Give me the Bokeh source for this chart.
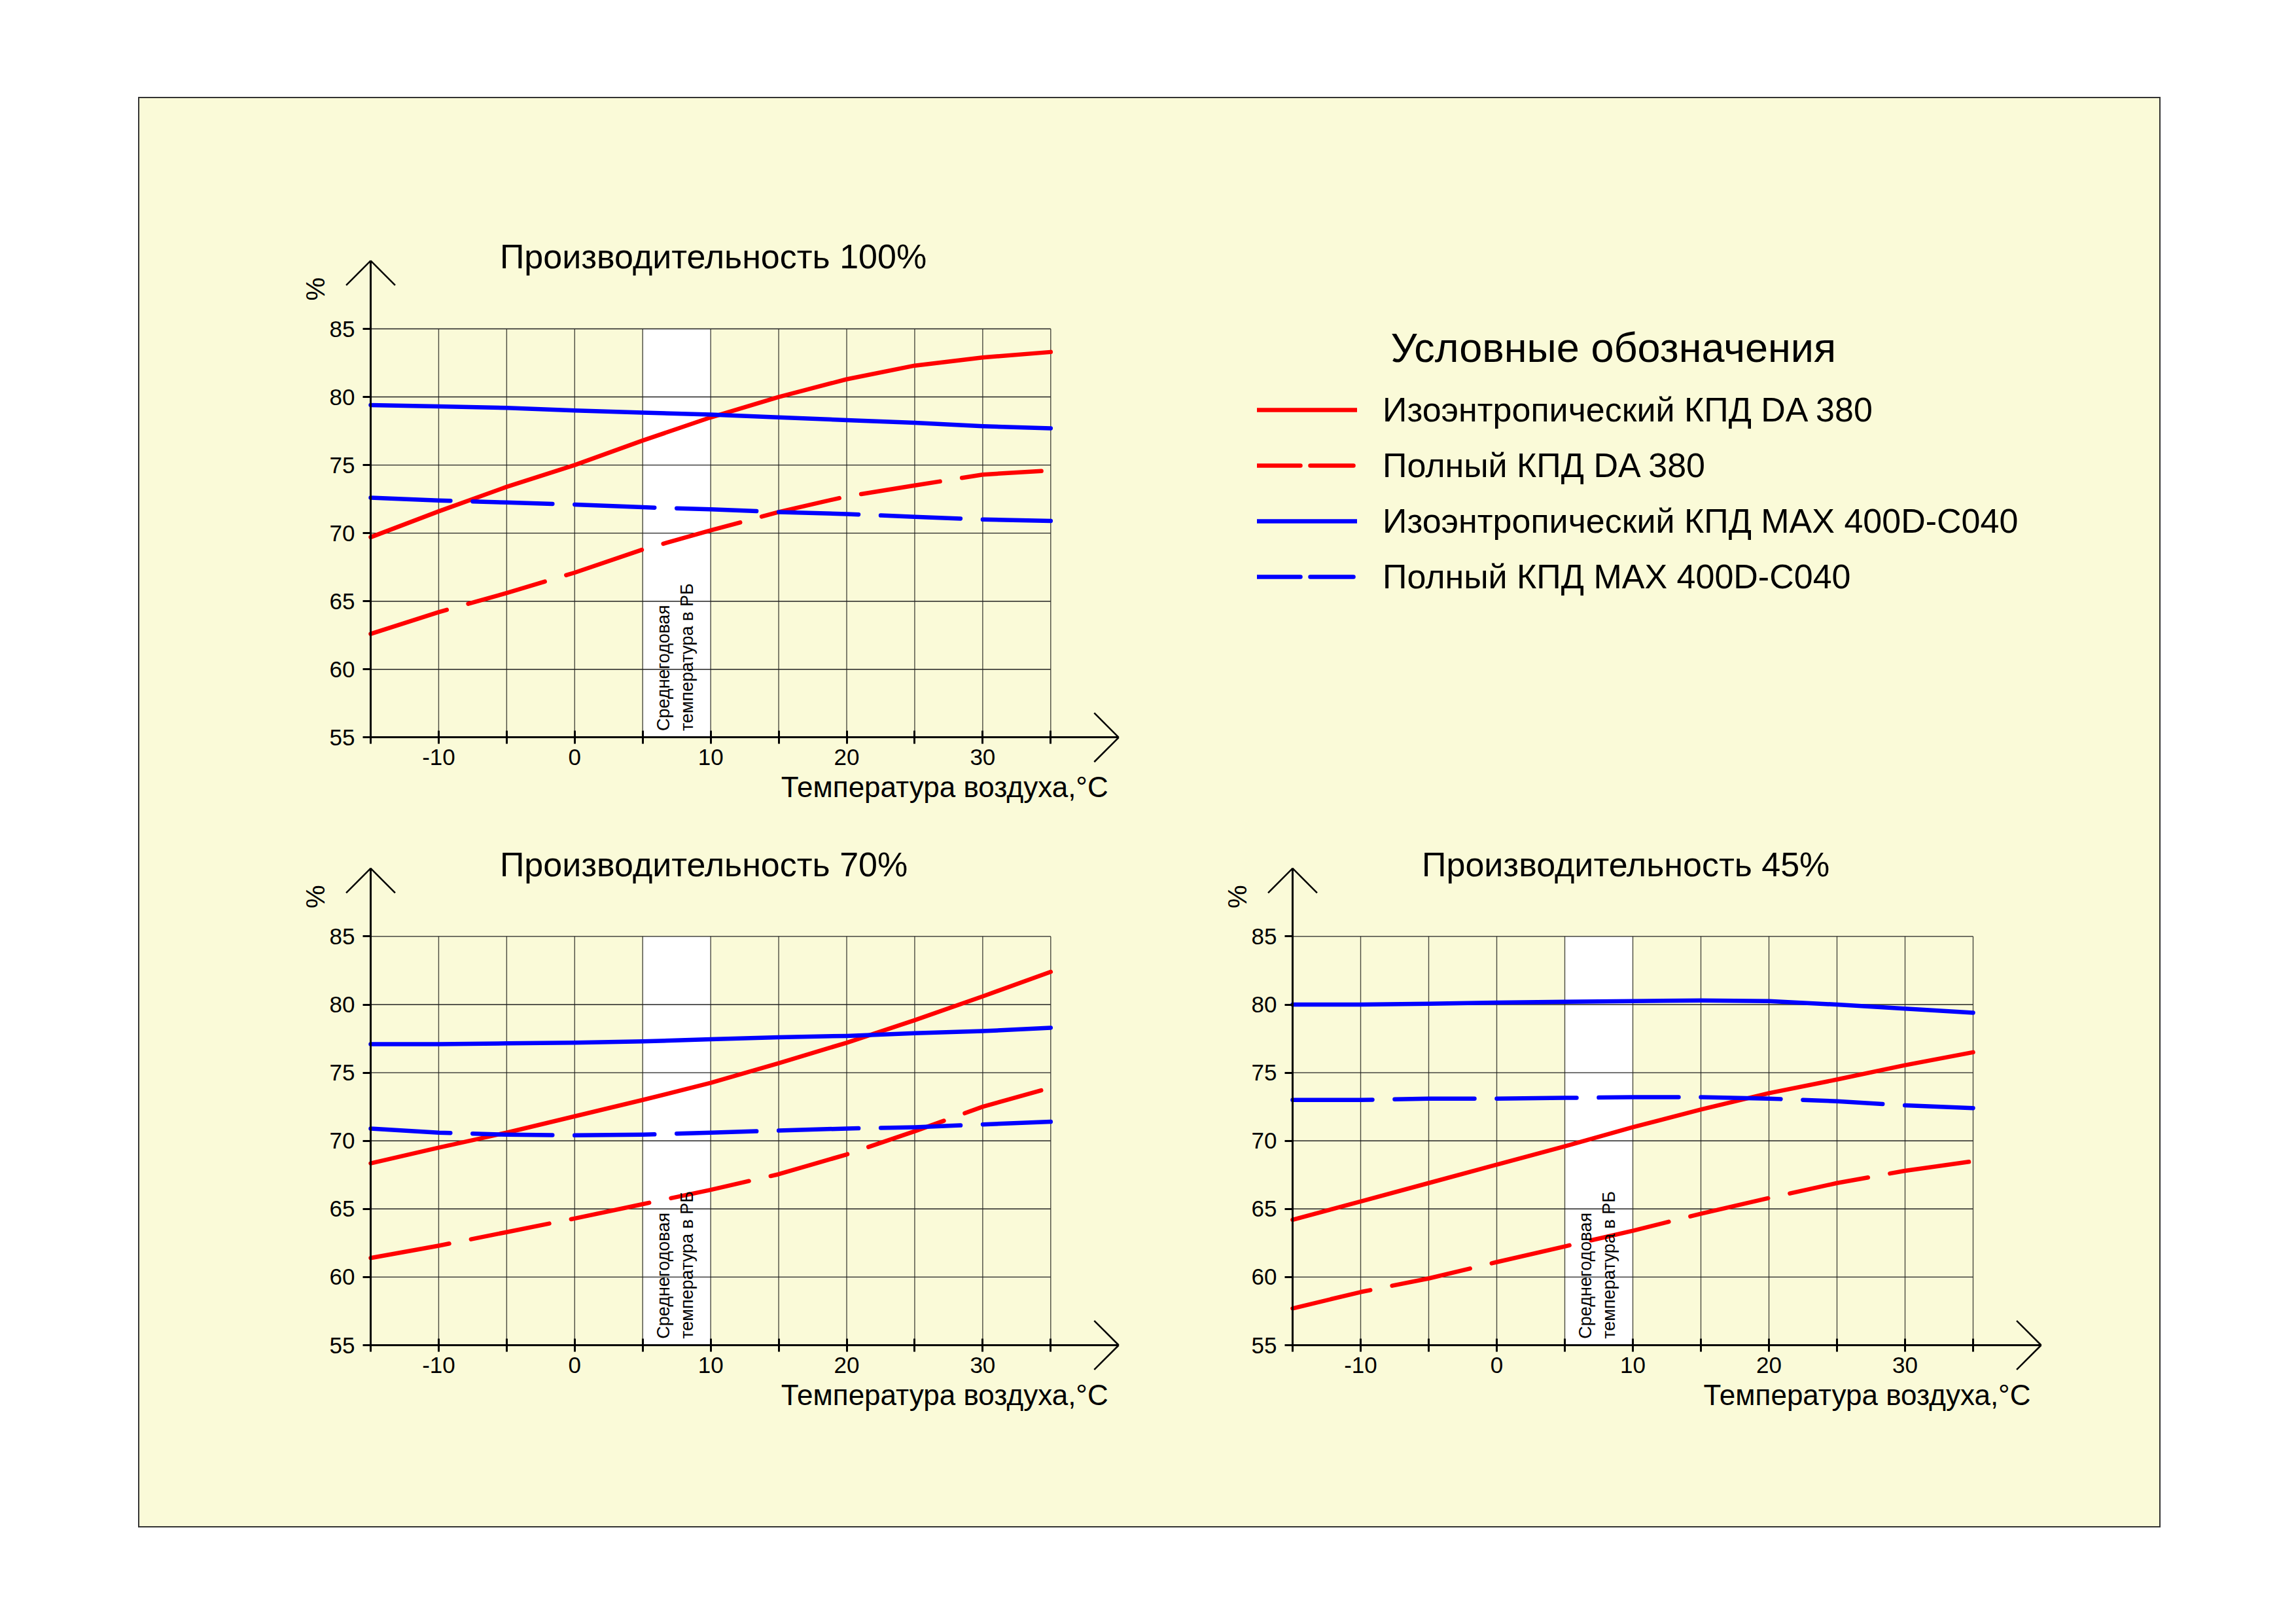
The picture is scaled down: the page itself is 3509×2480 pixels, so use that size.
import math
from bokeh.plotting import figure
from bokeh.layouts import row, column
from bokeh.models import (Range1d, FixedTicker, Label, Arrow, Legend, LegendItem, Spacer,
                          LinearAxis)
from bokeh.embed import file_html
from bokeh.resources import INLINE

FONT = "Liberation Sans"
BG = "#FAFAD8"
RED = "#FF0000"
BLUE = "#0000FF"
GRID_H = "#222222"
GRID_V = "#4a4a40"

# ---------------- data ----------------
temps = [-15, -10, -5, 0, 5, 10, 15, 20, 25, 30, 35]

# Производительность 100%
da_isen_100 = [69.7, 71.6, 73.4, 75.0, 76.8, 78.5, 80.0, 81.3, 82.3, 82.9, 83.3]
da_full_100 = [62.6, 64.2, 65.6, 67.1, 68.8, 70.2, 71.55, 72.7, 73.5, 74.3, 74.6]
max_isen_100 = [79.4, 79.3, 79.2, 79.0, 78.85, 78.7, 78.5, 78.3, 78.1, 77.85, 77.7]
max_full_100 = [72.6, 72.4, 72.25, 72.1, 71.9, 71.75, 71.55, 71.4, 71.2, 71.0, 70.9]

# Производительность 70%
da_isen_70 = [68.35, 69.5, 70.6, 71.8, 73.0, 74.25, 75.7, 77.2, 78.85, 80.6, 82.4]
da_full_70 = [61.4, 62.3, 63.3, 64.3, 65.35, 66.4, 67.55, 69.0, 70.7, 72.5, 73.9]
max_isen_70 = [77.1, 77.1, 77.15, 77.2, 77.3, 77.45, 77.6, 77.7, 77.9, 78.05, 78.3]
max_full_70 = [70.9, 70.6, 70.45, 70.4, 70.45, 70.6, 70.75, 70.9, 71.0, 71.2, 71.4]

# Производительность 45%
da_isen_45 = [64.2, 65.55, 66.9, 68.25, 69.6, 71.0, 72.3, 73.5, 74.5, 75.55, 76.5]
da_full_45 = [57.7, 58.9, 59.9, 61.1, 62.25, 63.4, 64.65, 65.8, 66.9, 67.8, 68.5]
max_isen_45 = [80.0, 80.0, 80.06, 80.15, 80.2, 80.25, 80.3, 80.25, 80.0, 79.7, 79.4]
max_full_45 = [73.0, 73.0, 73.1, 73.1, 73.15, 73.2, 73.2, 73.1, 72.9, 72.6, 72.4]

titles = ["Производительность 100%", "Производительность 70%", "Производительность 45%"]
legend_title = "Условные обозначения"
legend_labels = [
    "Изоэнтропический КПД DA 380",
    "Полный КПД DA 380",
    "Изоэнтропический КПД MAX 400D-C040",
    "Полный КПД MAX 400D-C040",
]
x_axis_title = "Температура воздуха,°С"
y_axis_title = "%"
band_text = "Среднегодовая\nтемпература в РБ"
band_x = [5, 10]

x_ticks = [-10, 0, 10, 20, 30]
x_tick_labels = ["-10", "0", "10", "20", "30"]
x_minor_ticks = [-15, -5, 5, 15, 25, 35]
y_ticks = [55, 60, 65, 70, 75, 80, 85]
y_tick_labels = ["55", "60", "65", "70", "75", "80", "85"]
grid_x = [-10, -5, 0, 5, 10, 15, 20, 25, 30, 35]
grid_y = [60, 65, 70, 75, 80, 85]

X_MIN, X_MAX, Y_MIN, Y_MAX = -15, 35, 55, 85
X_TIP, Y_TIP = 40, 90

series_colors = [RED, RED, BLUE, BLUE]
series_dash = ["solid", "122 34", "solid", "122 34"]
legend_dash = ["solid", "66 15", "solid", "66 15"]

# page geometry (px, page coordinates; bokeh's page has no body margin)
PAGE_X0, PAGE_Y0 = 213, 150


def make_chart(title, series, cx0, cw, cy0, ch, px_xmin, ppu_x, px_ytop, ppu_y):
    # ranges chosen so that the frame fills the whole canvas
    x_start = X_MIN - (px_xmin - cx0) / ppu_x
    x_end = X_MIN + (cx0 + cw - px_xmin) / ppu_x
    y_end = Y_MAX + (px_ytop - cy0) / ppu_y
    y_start = Y_MAX - (cy0 + ch - px_ytop) / ppu_y
    p = figure(width=cw, height=ch,
               x_range=Range1d(x_start, x_end), y_range=Range1d(y_start, y_end),
               x_axis_type=None, y_axis_type=None,
               output_backend="svg", toolbar_location=None, min_border=0,
               background_fill_color=BG, border_fill_color=BG)
    p.outline_line_color = None

    # white band (average annual temperature)
    p.quad(left=[band_x[0]], right=[band_x[1]], bottom=[Y_MIN], top=[Y_MAX],
           fill_color="white", line_color=None)

    # grid
    p.segment(x0=grid_x, x1=grid_x, y0=[Y_MIN] * len(grid_x), y1=[Y_MAX] * len(grid_x),
              line_color=GRID_V, line_width=1.4)
    p.segment(x0=[X_MIN] * len(grid_y), x1=[X_MAX] * len(grid_y), y0=grid_y, y1=grid_y,
              line_color=GRID_H, line_width=1.4)

    # curves
    for ys, col, dash in zip(series, series_colors, series_dash):
        p.line(temps, ys, line_color=col, line_width=6.5, line_dash=dash,
               line_join="round", line_cap="round")

    # axes drawn at fixed locations inside the frame
    xa = LinearAxis(fixed_location=Y_MIN)
    xa.ticker = FixedTicker(ticks=x_ticks, minor_ticks=x_minor_ticks)
    xa.major_label_overrides = dict(zip(x_ticks, x_tick_labels))
    xa.bounds = (X_MIN, X_TIP)
    xa.axis_line_width = 3
    xa.axis_line_color = "black"
    xa.major_tick_line_width = 3
    xa.minor_tick_line_width = 3
    xa.major_tick_line_color = "black"
    xa.minor_tick_line_color = "black"
    xa.major_tick_in = 10
    xa.major_tick_out = 10
    xa.minor_tick_in = 10
    xa.minor_tick_out = 10
    xa.major_label_standoff = 8
    xa.major_label_text_font = FONT
    xa.major_label_text_font_size = "35px"
    xa.major_label_text_color = "black"
    p.add_layout(xa, "below")

    ya = LinearAxis(fixed_location=X_MIN)
    ya.ticker = FixedTicker(ticks=y_ticks)
    ya.major_label_overrides = dict(zip(y_ticks, y_tick_labels))
    ya.bounds = (Y_MIN, Y_TIP)
    ya.axis_line_width = 3
    ya.axis_line_color = "black"
    ya.major_tick_line_width = 3
    ya.major_tick_line_color = "black"
    ya.minor_tick_line_color = None
    ya.major_tick_in = 0
    ya.major_tick_out = 12
    ya.major_label_standoff = 12
    ya.major_label_text_font = FONT
    ya.major_label_text_font_size = "35px"
    ya.major_label_text_color = "black"
    p.add_layout(ya, "left")

    # open arrow heads (45 degrees)
    w = 1.8
    for (xs, ys, xe, ye) in [(X_TIP, Y_MIN, X_TIP - w, Y_MIN + w), (X_TIP, Y_MIN, X_TIP - w, Y_MIN - w),
                             (X_MIN, Y_TIP, X_MIN - w, Y_TIP - w), (X_MIN, Y_TIP, X_MIN + w, Y_TIP - w)]:
        p.add_layout(Arrow(x_start=xs, y_start=ys, x_end=xe, y_end=ye, end=None,
                           line_width=2.5, line_color="black"))

    # texts
    p.add_layout(Label(x=-5.5, y=90.3, text=title, text_font=FONT, text_font_size="52px",
                       text_color="black", text_align="left", text_baseline="middle"))
    p.add_layout(Label(x=39.23, y=51.35, text=x_axis_title, text_font=FONT, text_font_size="44px",
                       text_color="black", text_align="right", text_baseline="middle"))
    p.add_layout(Label(x=-19.07, y=87.92, text=y_axis_title, angle=math.pi / 2, text_font=FONT,
                       text_font_size="40px", text_color="black", text_align="center",
                       text_baseline="middle"))
    p.add_layout(Label(x=7.4, y=55.47, text=band_text, angle=math.pi / 2, text_font=FONT,
                       text_font_size="27px", text_color="black", text_align="left",
                       text_baseline="middle"))
    return p


p1 = make_chart(titles[0], [da_isen_100, da_full_100, max_isen_100, max_full_100],
                PAGE_X0, 1687, PAGE_Y0, 1110, 566, 20.786, 502, 20.81)
p2 = make_chart(titles[1], [da_isen_70, da_full_70, max_isen_70, max_full_70],
                PAGE_X0, 1637, 1260, 1072, 566, 20.786, 1430.4, 20.82)
p3 = make_chart(titles[2], [da_isen_45, da_full_45, max_isen_45, max_full_45],
                1850, 1450, 1260, 1072, 1975, 20.8, 1430.4, 20.82)

# legend panel
leg = figure(width=1400, height=1110, x_range=Range1d(0, 1400), y_range=Range1d(0, 1110),
             output_backend="svg", toolbar_location=None, min_border=0,
             x_axis_type=None, y_axis_type=None,
             background_fill_color=BG, border_fill_color=BG)
leg.outline_line_color = None
items = []
for lbl, col, dash in zip(legend_labels, series_colors, legend_dash):
    r = leg.line(x=[float("nan")], y=[float("nan")], line_color=col, line_width=6.5,
                 line_dash=dash, line_cap="round")
    items.append(LegendItem(label=lbl, renderers=[r]))
legend = Legend(items=items, location=(21, 349), glyph_width=153, glyph_height=60,
                label_height=60, spacing=25, label_standoff=39, padding=0, margin=0,
                border_line_color=None, background_fill_alpha=0,
                label_text_font=FONT, label_text_font_size="52px", label_text_color="black")
leg.add_layout(legend)
leg.add_layout(Label(x=225, y=730, text=legend_title, text_font=FONT, text_font_size="63px",
                     text_color="black", text_align="left", text_baseline="middle"))

inner = column(row(p1, leg), row(p2, p3),
               styles={"outline": "2px solid #333333", "background-color": BG})
page = column(Spacer(width=10, height=PAGE_Y0), row(Spacer(width=PAGE_X0, height=10), inner))

open("out.html", "w").write(file_html(page, INLINE, title="КПД"))
